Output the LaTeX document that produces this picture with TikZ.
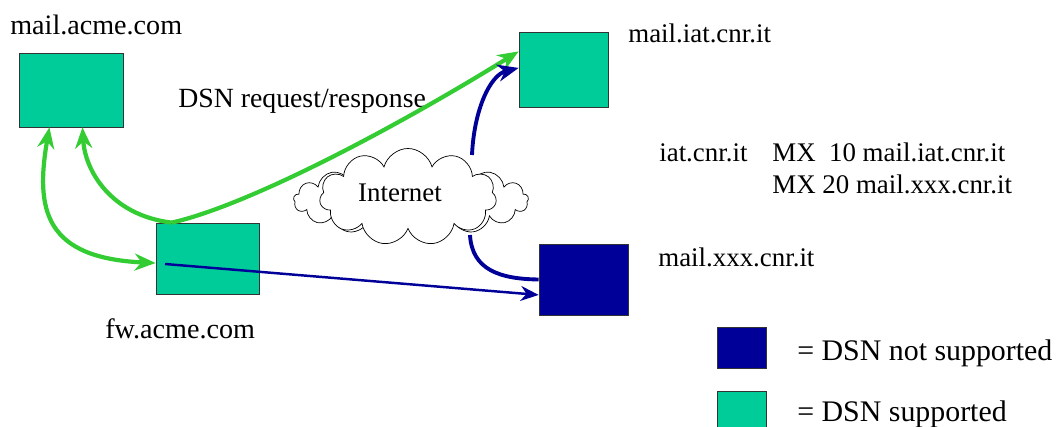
\documentclass[tikz,border=0pt]{standalone}
\usepackage{fontspec}
\setmainfont{Liberation Serif}
\usetikzlibrary{arrows.meta,positioning,shapes.symbols}
\definecolor{menta}{HTML}{00CC99}
\definecolor{notte}{HTML}{000099}
\definecolor{prato}{HTML}{33CC33}

\begin{document}
\begin{tikzpicture}[x=0.2mm,y=-0.2mm,>={Stealth[length=4.2mm,width=3.4mm]},
    font=\fontsize{15.3}{18}\selectfont,
    host/.style={draw=black!80,fill=menta,inner sep=0pt},
    nohost/.style={host,fill=notte},
    lbl/.style={anchor=base west,inner sep=0pt},
    biglbl/.style={lbl,font=\fontsize{16}{18}\selectfont},
    keylbl/.style={lbl,font=\fontsize{17}{20}\selectfont},
    green/.style={prato,line width=2.4pt},
    blu/.style={notte,line width=2.2pt},
    thinblu/.style={notte,line width=1.4pt,>={Stealth[length=3.6mm,width=3mm]}}]
        \useasboundingbox (0,0) rectangle (1056,427);
        \node[host,minimum width=20.8mm,minimum height=14.8mm] (acme) at (71,90) {};
        \node[host,minimum width=20.6mm,minimum height=14.2mm] (fw) at (207.5,258.5) {};
        \node[host,minimum width=17.8mm,minimum height=15mm] (iat) at (563.5,69.5) {};
        \node[nohost,minimum width=17.8mm,minimum height=14.2mm] (xxx) at (583.5,279.5) {};
        \node[nohost,minimum width=9.8mm,minimum height=8.2mm] (keyno) at (741.5,347.5) {};
        \node[host,minimum width=9.8mm,minimum height=8.2mm] (keyok) at (741.5,411.5) {};
        \node[biglbl] (acmelbl) at (10,35) {mail.acme.com};
        \node[biglbl] (fwlbl) at (105,339) {fw.acme.com};
        \node[lbl] (iatlbl) at (628,43) {mail.iat.cnr.it};
        \node[lbl] (xxxlbl) at (658,267) {mail.xxx.cnr.it};
        \node[lbl,font=\fontsize{15.8}{18}\selectfont] (dsnlbl) at (178,108) {DSN request/response};
        \node[lbl] (domlbl) at (659,162) {iat.cnr.it};
        \node[lbl] (mx10) at (772,162) {MX\ \ 10 mail.iat.cnr.it};
        \node[lbl] (mx20) at (772,194) {MX 20 mail.xxx.cnr.it};
        \node[keylbl] (keynolbl) at (797,361) {= DSN not supported};
        \node[keylbl] (keyoklbl) at (797,422) {= DSN supported};
        \node[cloud,cloud puffs=17,draw,fill=white,thin,minimum width=47mm,minimum height=15mm] (netback) at (411,200) {};
        \node[cloud,cloud puffs=11,draw,fill=white,thin,minimum width=35.4mm,minimum height=19.4mm] (net) at (408,197) {};
        \node[anchor=base] (netlbl) at (400,202) {Internet};
        \coordinate (nettop) at (472,155);
        \coordinate (netbot) at (470,235);
        \coordinate (fwin) at (165,264);
        \draw[->,green] (fw.135) .. controls (250,205) and (400,125) .. (iat.158);
        \draw[->,green] (fw.135) .. controls (110,215) and (85,170) .. (acme.-73);
        \draw[<->,green] (acme.-120) .. controls (35,210) and (45,258) .. (fw.185);
        \draw[->,thinblu] (fwin) -- (xxx.199);
        \draw[->,blu] (nettop) .. controls (474,110) and (490,75) .. (iat.178);
        \draw[blu] (netbot) .. controls (472,270) and (500,279) .. (xxx.west);
      \end{tikzpicture}
\end{document}
